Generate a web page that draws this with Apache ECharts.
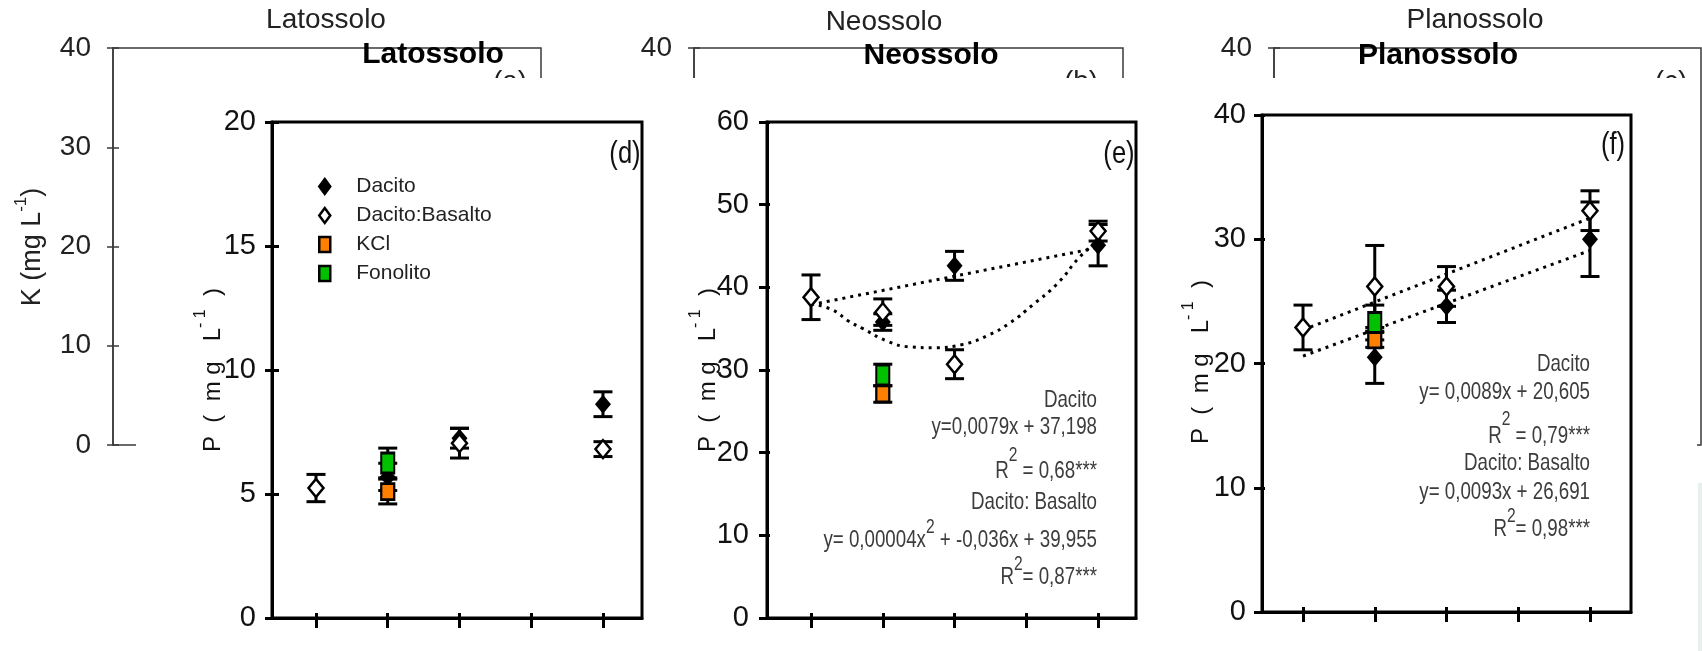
<!DOCTYPE html>
<html><head><meta charset="utf-8">
<script src="https://cdn.jsdelivr.net/npm/echarts@6/dist/echarts.min.js"></script>
<style>html,body{margin:0;padding:0;background:#fff}#c{width:1702px;height:651px}</style>
</head><body><div id="c"></div>
<script>
// ---------- data ----------
const doseTicks = [0, 250, 500, 750, 1000];
const kTicksMax = 40;
const legendNames = ['Dacito', 'Dacito:Basalto', 'KCl', 'Fonolito'];

// Latossolo (d) - P
const latDacitoX = [250, 500, 1000];
const latDacitoY = [5.69, 7.25, 8.62];
const latDacitoErr = [0.55, 0.4, 0.5];
const latBasaltoX = [0, 500, 1000];
const latBasaltoY = [5.24, 7.05, 6.81];
const latBasaltoErr = [0.55, 0.6, 0.3];
const latKclX = [250], latKclY = [5.1], latKclErr = [0.5];
const latFonX = [250], latFonY = [6.25], latFonErr = [0.6];

// Neossolo (e) - P
const neoDacitoX = [250, 500, 1000];
const neoDacitoY = [35.8, 42.6, 45.1];
const neoDacitoErr = [1.0, 1.75, 2.5];
const neoBasaltoX = [0, 250, 500, 1000];
const neoBasaltoY = [38.8, 37.0, 30.7, 46.8];
const neoBasaltoErr = [2.7, 1.6, 1.75, 1.2];
const neoKclX = [250], neoKclY = [27.1], neoKclErr = [1.0];
const neoFonX = [250], neoFonY = [29.4], neoFonErr = [1.3];
const neoDacitoTrendX = [0, 1000];
const neoDacitoTrendY = [37.9, 44.8];
const neoBasaltoTrendX = [0, 73, 132, 181, 265, 345, 425, 530, 617, 693, 773, 857, 937, 1000];
const neoBasaltoTrendY = [38.0, 37.3, 35.9, 35.0, 33.5, 32.8, 32.7, 33.1, 34.2, 35.7, 37.9, 40.4, 43.7, 45.6];

// Planossolo (f) - P
const plaDacitoX = [250, 500, 1000];
const plaDacitoY = [20.5, 24.6, 30.0];
const plaDacitoErr = [2.1, 1.3, 3.0];
const plaBasaltoX = [0, 250, 500, 1000];
const plaBasaltoY = [22.9, 26.2, 26.2, 32.3];
const plaBasaltoErr = [1.8, 3.3, 1.6, 1.6];
const plaKclX = [250], plaKclY = [21.9], plaKclErr = [0.6];
const plaFonX = [250], plaFonY = [23.3], plaFonErr = [1.4];
const plaDacitoTrendX = [0, 1000];
const plaDacitoTrendY = [20.6, 29.1];
const plaBasaltoTrendX = [0, 1000];
const plaBasaltoTrendY = [22.7, 31.7];

// ---------- styling / layout ----------
const ARIAL = "'Liberation Sans',Arial,sans-serif";
const EQ = '#3c3c3c';
const NARROW_SCALE = 0.78;

const BACK = [
  {left: 113, top: 48, width: 428, height: 397},
  {left: 694, top: 48, width: 429, height: 397},
  {left: 1274, top: 48, width: 427, height: 397}
];
const FRONT = [
  {grid: {left: 272, top: 122, width: 370, height: 496}, xmin: -153.3, xmax: 1136, ymax: 20, yint: 5, margin: 16, tOut: 7, tIn: 7},
  {grid: {left: 767, top: 122, width: 369, height: 496}, xmin: -153.3, xmax: 1132, ymax: 60, yint: 10, margin: 18, tOut: 8, tIn: 3},
  {grid: {left: 1262, top: 115, width: 369, height: 497}, xmin: -142.9, xmax: 1142.9, ymax: 40, yint: 10, margin: 16, tOut: 8, tIn: 3}
];

const grids = [], xAxes = [], yAxes = [], series = [];

BACK.forEach((g, i) => {
  grids.push(Object.assign({show: true, borderColor: '#3a3a3a', borderWidth: 1.5, backgroundColor: 'transparent', z: 1}, g));
  xAxes.push({type: 'value', gridIndex: i, min: 0, max: 1, show: false});
  yAxes.push({type: 'value', gridIndex: i, min: 0, max: kTicksMax, interval: 10, z: 1, position: 'left',
    axisLine: {show: true, onZero: false, lineStyle: {color: '#3a3a3a', width: 1.5}},
    axisTick: {show: true, length: 6, lineStyle: {color: '#3a3a3a', width: 1.5}},
    axisLabel: {show: true, margin: 22, fontFamily: ARIAL, fontSize: 28, color: '#222'},
    splitLine: {show: false}});
  yAxes.push({type: 'value', gridIndex: i, min: 0, max: kTicksMax, interval: 10, z: 1, position: 'left',
    axisLine: {show: false, onZero: false}, axisTick: {show: true, inside: true, length: 6, lineStyle: {color: '#3a3a3a', width: 1.5}},
    axisLabel: {show: false}, splitLine: {show: false}});
});

FRONT.forEach((p, k) => {
  const gi = 3 + k;
  grids.push(Object.assign({show: true, borderColor: '#000', borderWidth: 3, backgroundColor: 'transparent', z: 4}, p.grid));
  xAxes.push({type: 'value', gridIndex: gi, min: p.xmin, max: p.xmax, position: 'bottom', z: 4,
    axisLine: {show: true, onZero: false, lineStyle: {color: '#000', width: 3}},
    axisTick: {show: true, customValues: doseTicks, length: 10, lineStyle: {color: '#000', width: 3}},
    axisLabel: {show: false}, splitLine: {show: false}});
  xAxes.push({type: 'value', gridIndex: gi, min: p.xmin, max: p.xmax, position: 'bottom', z: 4,
    axisLine: {show: false, onZero: false},
    axisTick: {show: true, inside: true, customValues: doseTicks, length: 5, lineStyle: {color: '#000', width: 3}},
    axisLabel: {show: false}, splitLine: {show: false}});
  yAxes.push({type: 'value', gridIndex: gi, min: 0, max: p.ymax, interval: p.yint, position: 'left', z: 4,
    axisLine: {show: true, onZero: false, lineStyle: {color: '#000', width: 3}},
    axisTick: {show: true, length: p.tOut, lineStyle: {color: '#000', width: 3}},
    axisLabel: {show: true, margin: p.margin, fontFamily: ARIAL, fontSize: 29, color: '#111'},
    splitLine: {show: false}});
  yAxes.push({type: 'value', gridIndex: gi, min: 0, max: p.ymax, interval: p.yint, position: 'left', z: 4,
    axisLine: {show: false, onZero: false},
    axisTick: {show: true, inside: true, length: p.tIn, lineStyle: {color: '#000', width: 3}},
    axisLabel: {show: false}, splitLine: {show: false}});
});

function errRender(params, api) {
  const x = api.value(0);
  const lo = api.coord([x, api.value(1)]);
  const hi = api.coord([x, api.value(2)]);
  const hw = 9.5;
  const st = {stroke: '#000', lineWidth: 3};
  return {type: 'group', children: [
    {type: 'line', shape: {x1: lo[0], y1: lo[1], x2: hi[0], y2: hi[1]}, style: st},
    {type: 'line', shape: {x1: lo[0] - hw, y1: lo[1], x2: lo[0] + hw, y2: lo[1]}, style: st},
    {type: 'line', shape: {x1: hi[0] - hw, y1: hi[1], x2: hi[0] + hw, y2: hi[1]}, style: st}
  ]};
}
const pairs = (X, Y) => X.map((x, i) => [x, Y[i]]);
const errs = (X, Y, E) => X.map((x, i) => [x, Y[i] - E[i], Y[i] + E[i]]);

const SYM = {
  'Dacito': {symbol: 'diamond', symbolSize: [16, 19], itemStyle: {color: '#000', borderColor: '#000', borderWidth: 0, opacity: 1}, z: 7},
  'Dacito:Basalto': {symbol: 'diamond', symbolSize: [15, 18], itemStyle: {color: '#fff', borderColor: '#000', borderWidth: 2.5, opacity: 1}, z: 8},
  'KCl': {symbol: 'rect', symbolSize: [13, 16], itemStyle: {color: '#ff8000', borderColor: '#000', borderWidth: 2.5, opacity: 1}, z: 9},
  'Fonolito': {symbol: 'rect', symbolSize: [13, 20], itemStyle: {color: '#00c000', borderColor: '#000', borderWidth: 2.5, opacity: 1}, z: 9}
};

function addPanel(k, groups, trends) {
  const xi = 3 + 2 * k, yi = 6 + 2 * k;
  trends.forEach(t => series.push({type: 'line', xAxisIndex: xi, yAxisIndex: yi, data: pairs(t[0], t[1]),
    smooth: t[2] || false, symbol: 'none', silent: true, z: 5,
    lineStyle: {color: '#000', width: 3, type: [3, 5]}}));
  groups.forEach(g => series.push({type: 'custom', xAxisIndex: xi, yAxisIndex: yi, renderItem: errRender,
    data: errs(g[1], g[2], g[3]), silent: true, z: 6}));
  groups.forEach(g => series.push(Object.assign({type: 'scatter', name: g[0], xAxisIndex: xi, yAxisIndex: yi,
    data: pairs(g[1], g[2]), silent: true}, SYM[g[0]])));
}

addPanel(0, [
  ['Dacito', latDacitoX, latDacitoY, latDacitoErr],
  ['Dacito:Basalto', latBasaltoX, latBasaltoY, latBasaltoErr],
  ['KCl', latKclX, latKclY, latKclErr],
  ['Fonolito', latFonX, latFonY, latFonErr]
], []);
addPanel(1, [
  ['Dacito', neoDacitoX, neoDacitoY, neoDacitoErr],
  ['Dacito:Basalto', neoBasaltoX, neoBasaltoY, neoBasaltoErr],
  ['KCl', neoKclX, neoKclY, neoKclErr],
  ['Fonolito', neoFonX, neoFonY, neoFonErr]
], [[neoDacitoTrendX, neoDacitoTrendY], [neoBasaltoTrendX, neoBasaltoTrendY, 0.5]]);
addPanel(2, [
  ['Dacito', plaDacitoX, plaDacitoY, plaDacitoErr],
  ['Dacito:Basalto', plaBasaltoX, plaBasaltoY, plaBasaltoErr],
  ['KCl', plaKclX, plaKclY, plaKclErr],
  ['Fonolito', plaFonX, plaFonY, plaFonErr]
], [[plaDacitoTrendX, plaDacitoTrendY], [plaBasaltoTrendX, plaBasaltoTrendY]]);

// ---------- texts ----------
function txt(x, y, text, size, family, opts) {
  opts = opts || {};
  return {type: 'text', x, y, z: opts.z || 10, rotation: opts.rot || 0, scaleX: opts.sx || 1, silent: true,
    style: {text, fontSize: size, fontFamily: family, fontWeight: opts.bold ? 'bold' : 'normal',
      fill: opts.color || '#111', align: opts.align || 'center', verticalAlign: 'middle'}};
}
function rtxt(x, y, parts, size, supSize, L, family, opts) {
  opts = opts || {};
  return {type: 'text', x, y, z: opts.z || 10, rotation: opts.rot || 0, scaleX: opts.sx || 1, silent: true,
    style: {text: parts.map(p => '{' + (p[1] ? 's' : 'n') + '|' + p[0] + '}').join(''),
      align: opts.align || 'right', verticalAlign: 'middle',
      rich: {
        n: {fontSize: size, fontFamily: family, lineHeight: L, fill: opts.color || EQ},
        s: {fontSize: supSize, fontFamily: family, lineHeight: supSize, verticalAlign: 'top', fill: opts.color || EQ}
      }}};
}
const eq = (x, y, parts, L) => rtxt(x, y, parts, 24, 20, L, ARIAL, {sx: NARROW_SCALE});
const P_LABEL = [['P  (  m g   L', 0], ['- 1', 1], ['  )', 0]];

const graphics = [
  // cover sheet of the front panels
  {type: 'rect', z: 3, silent: true, shape: {x: 136, y: 78, width: 1561, height: 573}, style: {fill: '#fff'}},
  {type: 'rect', z: 3, silent: true, shape: {x: 1698, y: 483, width: 4, height: 168}, style: {fill: '#e8f0ee'}},
  // background titles
  txt(326, 20, 'Latossolo', 28, ARIAL, {z: 2, color: '#222'}),
  txt(884, 22, 'Neossolo', 28, ARIAL, {z: 2, color: '#222'}),
  txt(1475, 20, 'Planossolo', 28, ARIAL, {z: 2, color: '#222'}),
  txt(433, 55, 'Latossolo', 30, ARIAL, {z: 2, bold: true, color: '#000'}),
  txt(931, 56, 'Neossolo', 30, ARIAL, {z: 2, bold: true, color: '#000'}),
  txt(1438, 56, 'Planossolo', 30, ARIAL, {z: 2, bold: true, color: '#000'}),
  txt(510, 82, '(a)', 28, ARIAL, {z: 2, color: '#222'}),
  txt(1081, 82, '(b)', 28, ARIAL, {z: 2, color: '#222'}),
  txt(1671, 82, '(c)', 28, ARIAL, {z: 2, color: '#222'}),
  rtxt(33, 247, [['K (mg L', 0], ['-1', 1], [')', 0]], 27, 17, 40, ARIAL, {z: 2, rot: Math.PI / 2, align: 'center', color: '#222'}),
  // front panel labels
  txt(625, 154, '(d)', 32, ARIAL, {sx: 0.8}),
  txt(1119, 154, '(e)', 32, ARIAL, {sx: 0.8}),
  txt(1613, 145, '(f)', 32, ARIAL, {sx: 0.8}),
  rtxt(213, 370, P_LABEL, 24, 16, 40, ARIAL, {rot: Math.PI / 2, align: 'center', color: '#111'}),
  rtxt(708, 370, P_LABEL, 24, 16, 40, ARIAL, {rot: Math.PI / 2, align: 'center', color: '#111'}),
  rtxt(1201, 362, P_LABEL, 24, 16, 40, ARIAL, {rot: Math.PI / 2, align: 'center', color: '#111'}),
  // equations (e)
  eq(1097, 400, [['Dacito', 0]], 26),
  eq(1097, 427, [['y=0,0079x + 37,198', 0]], 26),
  eq(1097, 471, [['R', 0], ['2', 1], [' = 0,68***', 0]], 52),
  eq(1097, 502, [['Dacito: Basalto', 0]], 26),
  eq(1097, 540, [['y= 0,00004x', 0], ['2', 1], [' + -0,036x + 39,955', 0]], 46),
  eq(1097, 577, [['R', 0], ['2', 1], ['= 0,87***', 0]], 46),
  // equations (f)
  eq(1590, 364, [['Dacito', 0]], 26),
  eq(1590, 392, [['y= 0,0089x + 20,605', 0]], 26),
  eq(1590, 436, [['R', 0], ['2', 1], [' = 0,79***', 0]], 54),
  eq(1590, 463, [['Dacito: Basalto', 0]], 26),
  eq(1590, 492, [['y= 0,0093x + 26,691', 0]], 26),
  eq(1590, 529, [['R', 0], ['2', 1], ['= 0,98***', 0]], 46)
];

const chart = echarts.init(document.getElementById('c'), null, {renderer: 'canvas'});
chart.setOption({
  animation: false,
  backgroundColor: '#fff',
  grid: grids,
  xAxis: xAxes,
  yAxis: yAxes,
  legend: {
    data: [
      {name: 'Dacito', icon: 'diamond'},
      {name: 'Dacito:Basalto', icon: 'diamond'},
      {name: 'KCl', icon: 'rect'},
      {name: 'Fonolito', icon: 'rect'}
    ],
    orient: 'vertical', left: 313, top: 171, itemWidth: 11, itemHeight: 15, itemGap: 8,
    selectedMode: false, z: 10,
    itemStyle: {borderWidth: 2.5, borderColor: '#000', opacity: 1},
    textStyle: {fontFamily: ARIAL, fontSize: 21, color: '#222', padding: [0, 0, 0, 21]}
  },
  graphic: {elements: graphics},
  series: series
});
</script></body></html>
